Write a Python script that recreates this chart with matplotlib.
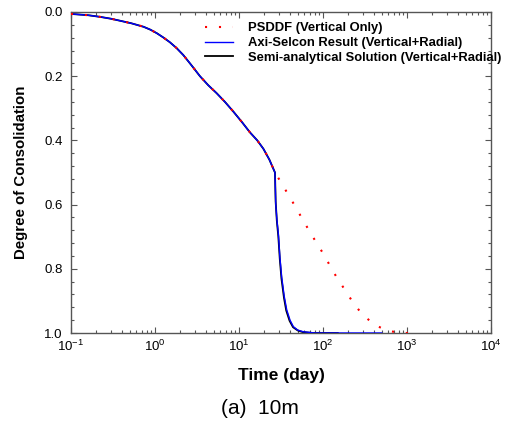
import matplotlib
matplotlib.use('Agg')
import matplotlib.pyplot as plt
import numpy as np
from matplotlib.ticker import LogLocator, MultipleLocator, NullFormatter

plt.rcParams['font.family'] = ['Liberation Sans', 'DejaVu Sans']

# data -----------------------------------
# PSDDF (vertical only)
psddf_t = [0.1, 0.16, 0.22, 0.3, 0.38, 0.52, 0.73, 0.88, 1.05, 1.25, 1.5, 1.8, 2.17, 2.7, 3.43,
           4.3, 5.42, 6.8, 8.55, 11, 13.5, 16.5, 19.5, 23, 26.8,
           32.2, 39.4, 47.3, 56.8, 68.7, 84.1, 103, 122, 148, 183, 225, 291, 412, 605, 903, 1340]
psddf_u = [0.006, 0.01, 0.015, 0.021, 0.027, 0.035, 0.046, 0.055, 0.066, 0.079, 0.094, 0.112, 0.134, 0.165, 0.20,
           0.228, 0.253, 0.28, 0.31, 0.345, 0.375, 0.40, 0.426, 0.46, 0.50,
           0.534, 0.573, 0.608, 0.645, 0.682, 0.72, 0.757, 0.792, 0.83, 0.866, 0.903, 0.941, 0.975, 0.994, 1.0, 1.0]

# Axi-Selcon (vertical + radial)
axi_t = [0.1, 0.16, 0.22, 0.3, 0.38, 0.52, 0.73, 0.88, 1.05, 1.25, 1.5, 1.8, 2.17, 2.7, 3.43,
         4.3, 5.42, 6.8, 8.55, 11, 13.5, 16.5, 19.5, 23, 26.8,
         27.4, 28.3, 29.4, 30.7, 32.2, 34.5, 37, 40.5, 44.3, 50, 58, 80, 200, 500]
axi_u = [0.006, 0.01, 0.015, 0.021, 0.027, 0.035, 0.046, 0.055, 0.066, 0.079, 0.094, 0.112, 0.134, 0.165, 0.20,
         0.228, 0.253, 0.28, 0.31, 0.345, 0.375, 0.40, 0.426, 0.46, 0.50,
         0.60, 0.65, 0.69, 0.765, 0.825, 0.885, 0.928, 0.96, 0.98, 0.991, 0.996, 1.0, 1.0, 1.0]

# semi-analytical solution (vertical + radial)
semi_t = [0.1, 0.16, 0.22, 0.3, 0.38, 0.52, 0.73, 0.88, 1.05, 1.25, 1.5, 1.8, 2.17, 2.7, 3.43,
          4.3, 5.42, 6.8, 8.55, 11, 13.5, 16.5, 19.5, 23, 26.8,
          27.3, 28.2, 29.4, 30.6, 32.0, 34.3, 36.5, 40, 44.0, 50, 57, 75, 150]
semi_u = [0.006, 0.01, 0.015, 0.021, 0.027, 0.035, 0.046, 0.055, 0.066, 0.079, 0.094, 0.112, 0.134, 0.165, 0.20,
          0.228, 0.253, 0.28, 0.31, 0.345, 0.375, 0.40, 0.426, 0.46, 0.50,
          0.59, 0.65, 0.70, 0.77, 0.83, 0.89, 0.93, 0.962, 0.982, 0.992, 0.997, 1.0, 1.0]

# GRAPH -----------------------------------
fig = plt.figure(figsize=(5.1, 4.26), dpi=100)
ax = fig.add_axes([71/510, 93/426, 420/510, 321/426])

ax.plot(psddf_t, psddf_u, color='red', lw=1.5, linestyle=(0, (1, 5.7)),
        label='PSDDF (Vertical Only)', zorder=4)
ax.plot(axi_t, axi_u, color='blue', lw=1.0, label='Axi-Selcon Result (Vertical+Radial)', zorder=3)
ax.plot(semi_t, semi_u, color='black', lw=1.3, label='Semi-analytical Solution (Vertical+Radial)', zorder=2)

ax.set_xscale('log')
ax.set_xlim(0.1, 1e4)
ax.set_ylim(1.0, 0.0)
ax.yaxis.set_major_locator(MultipleLocator(0.2))
ax.yaxis.set_minor_locator(MultipleLocator(0.04))
ax.xaxis.set_major_locator(LogLocator(base=10, numticks=10))
ax.xaxis.set_minor_locator(LogLocator(base=10, subs=np.arange(2, 10), numticks=10))
ax.xaxis.set_minor_formatter(NullFormatter())
ax.yaxis.set_major_formatter(plt.FuncFormatter(lambda v, p: '%.1f' % v))

for s in ax.spines.values():
    s.set_color('#555555')
    s.set_linewidth(1.0)
ax.tick_params(which='both', direction='in', top=True, right=True, color='#555555',
               labelsize=9.5, width=0.8)
ax.tick_params(which='major', length=4)
ax.tick_params(which='minor', length=2.5)
ax.tick_params(axis='y', which='major', pad=6)
ax.tick_params(axis='x', which='major', pad=4)

ax.set_xlabel('Time (day)', fontsize=12.5, fontweight='bold', labelpad=10)
ax.set_ylabel('Degree of Consolidation', fontsize=10.8, fontweight='bold', labelpad=12)

leg = ax.legend(loc='upper left', bbox_to_anchor=(0.318, 0.968), frameon=False,
                prop={'size': 9.4, 'weight': 'bold'}, handlelength=2.2, handletextpad=1.1,
                labelspacing=0.2, borderpad=0, borderaxespad=0)

fig.text(260/510, 1 - 408/426, '(a)  10m', fontsize=15, ha='center', va='center')

plt.savefig('out.png', dpi=100)
